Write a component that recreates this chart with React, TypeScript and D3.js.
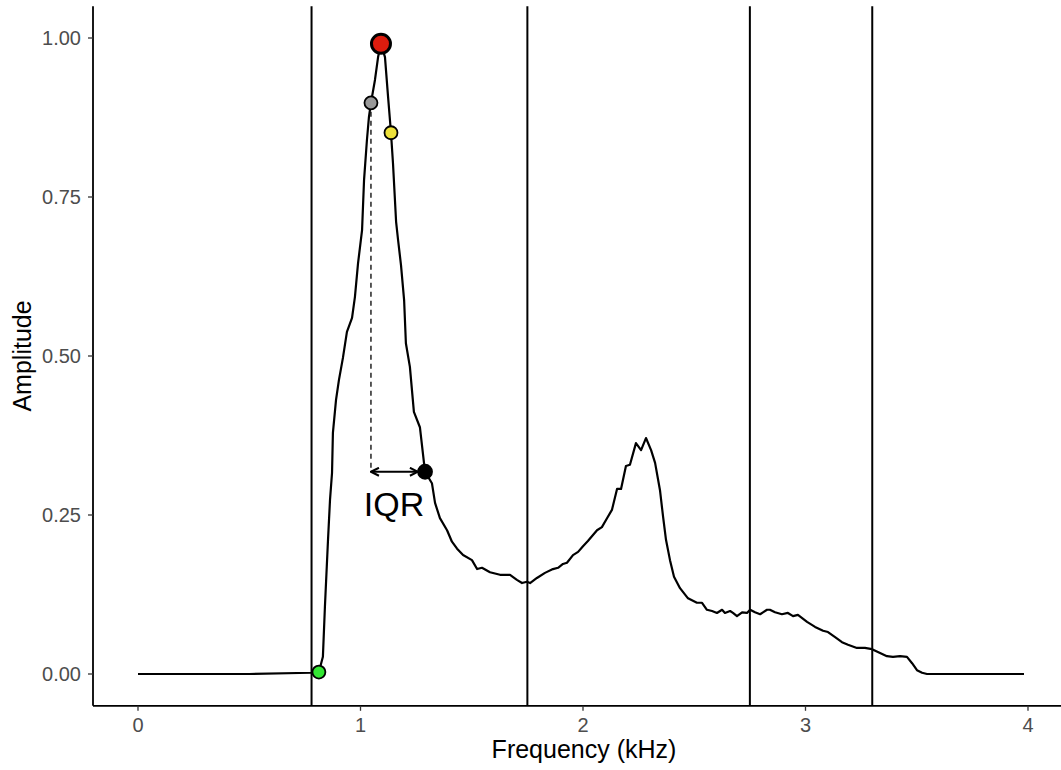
import React, { useEffect } from "react";
import * as d3 from "d3";

const freq = [0, 0.5, 0.778, 0.813, 0.831, 0.84, 0.854, 0.863, 0.872, 0.876, 0.89, 0.903, 0.921, 0.939, 0.962, 0.975, 0.989, 1.007, 1.016, 1.029, 1.038, 1.047, 1.065, 1.079, 1.092, 1.11, 1.124, 1.137, 1.146, 1.16, 1.169, 1.182, 1.196, 1.204, 1.222, 1.24, 1.267, 1.29, 1.321, 1.335, 1.357, 1.389, 1.411, 1.434, 1.461, 1.501, 1.524, 1.546, 1.582, 1.627, 1.672, 1.703, 1.726, 1.748, 1.762, 1.793, 1.829, 1.865, 1.888, 1.91, 1.928, 1.955, 1.978, 2.0, 2.022, 2.063, 2.085, 2.108, 2.13, 2.153, 2.171, 2.193, 2.211, 2.238, 2.261, 2.283, 2.306, 2.324, 2.346, 2.36, 2.373, 2.391, 2.409, 2.436, 2.472, 2.512, 2.535, 2.557, 2.58, 2.602, 2.625, 2.638, 2.661, 2.674, 2.692, 2.715, 2.737, 2.751, 2.773, 2.796, 2.827, 2.84, 2.863, 2.894, 2.921, 2.944, 2.966, 3.007, 3.043, 3.079, 3.101, 3.133, 3.164, 3.191, 3.231, 3.267, 3.299, 3.335, 3.366, 3.393, 3.425, 3.456, 3.479, 3.501, 3.524, 3.546, 3.982];
const amplitude = [0, 0, 0.002, 0.003, 0.027, 0.105, 0.211, 0.274, 0.316, 0.379, 0.431, 0.462, 0.497, 0.538, 0.56, 0.593, 0.646, 0.698, 0.777, 0.84, 0.876, 0.898, 0.934, 0.97, 0.991, 0.97, 0.907, 0.851, 0.803, 0.711, 0.682, 0.643, 0.588, 0.52, 0.483, 0.412, 0.388, 0.318, 0.3, 0.269, 0.245, 0.226, 0.208, 0.197, 0.187, 0.179, 0.165, 0.167, 0.16, 0.156, 0.156, 0.148, 0.143, 0.145, 0.143, 0.151, 0.159, 0.165, 0.167, 0.173, 0.175, 0.187, 0.192, 0.201, 0.209, 0.226, 0.231, 0.245, 0.258, 0.291, 0.291, 0.327, 0.329, 0.363, 0.352, 0.371, 0.352, 0.332, 0.289, 0.247, 0.211, 0.179, 0.153, 0.135, 0.119, 0.112, 0.112, 0.101, 0.099, 0.096, 0.101, 0.096, 0.099, 0.096, 0.091, 0.097, 0.096, 0.101, 0.097, 0.094, 0.101, 0.101, 0.097, 0.094, 0.096, 0.091, 0.093, 0.082, 0.074, 0.068, 0.066, 0.058, 0.05, 0.046, 0.041, 0.041, 0.039, 0.033, 0.028, 0.027, 0.028, 0.027, 0.017, 0.006, 0.002, 0, 0];

const vLines = [0.78, 1.75, 2.75, 3.3];
const xTicks = [0, 1, 2, 3, 4];
const yTicks = [0, 0.25, 0.5, 0.75, 1.0];

// key points: minimum freq, Q25, Q75, IQR end, peak
const pointFreq = [0.813, 1.047, 1.137, 1.29, 1.092];
const pointAmp = [0.003, 0.898, 0.851, 0.318, 0.991];
const pointFill = ["#33e633", "#999999", "#ede13a", "#000000", "#dd1c0e"];
const pointSize = [6.5, 6.5, 6.5, 7, 9.5];

const iqrStart = 1.047;
const iqrEnd = 1.258;
const iqrLevel = 0.318;

export default function App() {
  useEffect(() => {
    document.body.style.margin = "0";
  }, []);

  const W = 1061;
  const H = 770;
  const x = d3.scaleLinear().domain([0, 4]).range([138, 1028]);
  const y = d3.scaleLinear().domain([0, 1]).range([674, 38]);
  const panelLeft = 93;
  const panelTop = y(1.05);
  const panelBottom = y(-0.05);

  const pts: [number, number][] = freq.map((f, i) => [f, amplitude[i]]);
  const line = d3
    .line<[number, number]>()
    .x((d) => x(d[0]))
    .y((d) => y(d[1]));

  const font = "'Liberation Sans', Arial, Helvetica, sans-serif";

  return (
    <svg width={W} height={H} style={{ display: "block" }} fontFamily={font}>
      <defs>
        <marker id="arr" viewBox="0 0 10 10" refX="9" refY="5" markerWidth="10" markerHeight="10" orient="auto-start-reverse" markerUnits="userSpaceOnUse">
          <path d="M1,1 L9,5 L1,9" fill="none" stroke="#000" strokeWidth={2} />
        </marker>
      </defs>
      <rect width={W} height={H} fill="#fff" />
      {vLines.map((v) => (
        <line key={v} x1={x(v)} x2={x(v)} y1={panelTop} y2={panelBottom} stroke="#000" strokeWidth={2} />
      ))}
      <path d={line(pts) || ""} fill="none" stroke="#000" strokeWidth={2.2} strokeLinejoin="round" />
      <line x1={x(iqrStart)} x2={x(iqrStart)} y1={y(pointAmp[1])} y2={y(iqrLevel)} stroke="#000" strokeWidth={1.3} strokeDasharray="5,4" />
      <line x1={x(iqrStart)} x2={x(iqrEnd)} y1={y(iqrLevel)} y2={y(iqrLevel)} stroke="#000" strokeWidth={2.2} markerStart="url(#arr)" markerEnd="url(#arr)" />
      <text x={x((iqrStart + pointFreq[3]) / 2) - 4} y={y(iqrLevel) + 44} textAnchor="middle" fontSize={34} fill="#000">IQR</text>
      {pointFreq.map((f, i) => (
        <circle key={i} cx={x(f)} cy={y(pointAmp[i])} r={pointSize[i]} fill={pointFill[i]} stroke="#000" strokeWidth={i === 4 ? 3 : 1.8} />
      ))}
      {/* axes */}
      <line x1={panelLeft} x2={panelLeft} y1={panelTop} y2={panelBottom} stroke="#000" strokeWidth={1.8} />
      <line x1={panelLeft} x2={W} y1={panelBottom} y2={panelBottom} stroke="#000" strokeWidth={1.8} />
      {yTicks.map((t) => (
        <g key={t}>
          <line x1={panelLeft - 5} x2={panelLeft} y1={y(t)} y2={y(t)} stroke="#333" strokeWidth={1.3} />
          <text x={panelLeft - 12} y={y(t)} dy="0.36em" textAnchor="end" fontSize={20} fill="#4d4d4d">{t.toFixed(2)}</text>
        </g>
      ))}
      {xTicks.map((t) => (
        <g key={t}>
          <line x1={x(t)} x2={x(t)} y1={panelBottom} y2={panelBottom + 5} stroke="#333" strokeWidth={1.3} />
          <text x={x(t)} y={panelBottom + 26} textAnchor="middle" fontSize={20} fill="#4d4d4d">{t}</text>
        </g>
      ))}
      <text x={584} y={758} textAnchor="middle" fontSize={25} fill="#000">Frequency (kHz)</text>
      <text transform={`translate(31,${(panelTop + panelBottom) / 2}) rotate(-90)`} textAnchor="middle" fontSize={25} fill="#000">Amplitude</text>
    </svg>
  );
}
